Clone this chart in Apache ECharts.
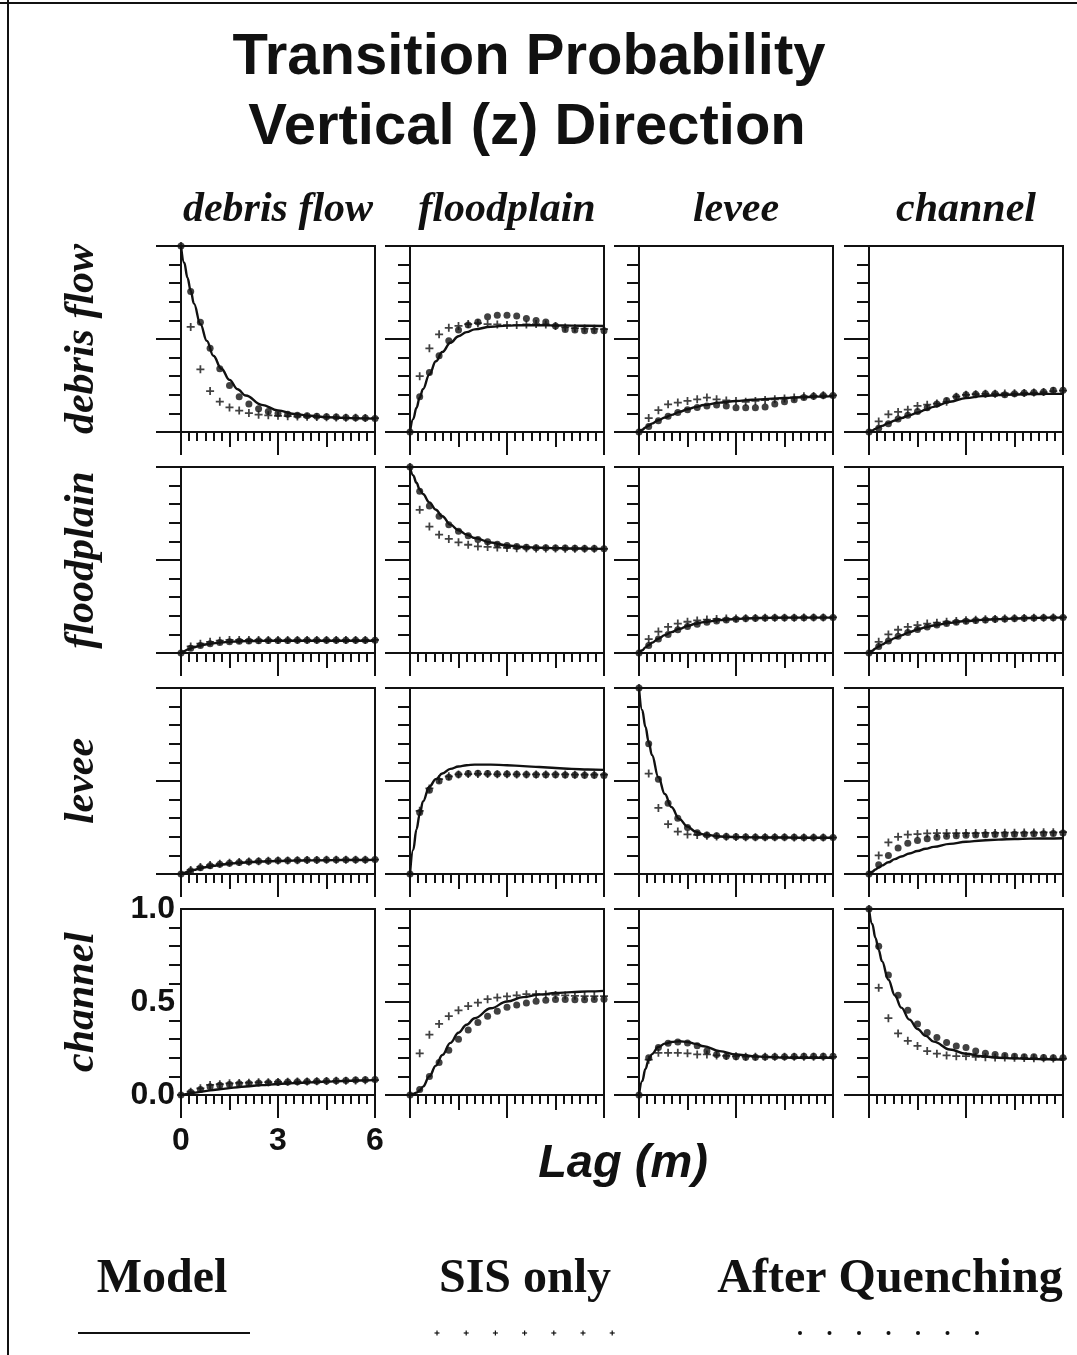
<!DOCTYPE html>
<html><head><meta charset="utf-8">
<script src="https://cdn.jsdelivr.net/npm/echarts@6/dist/echarts.min.js"></script>
<style>html,body{margin:0;padding:0;background:#fff}#c{width:1077px;height:1355px}</style>
</head><body><div id="c"></div>
<script>
const facies = ['debris flow','floodplain','levee','channel'];
const xTickLabels = ['0','3','6'];
const yTickLabels = ['0.0','0.5','1.0'];
const xPts = [0,0.3,0.6,0.9,1.2,1.5,1.8,2.1,2.4,2.7,3,3.3,3.6,3.9,4.2,4.5,4.8,5.1,5.4,5.7,6];
const xModel = [0,0.1,0.2,0.3,0.4,0.6,0.8,1,1.25,1.5,1.75,2,2.5,3,3.5,4,4.5,5,5.5,6];

// row 1: debris flow ->
const model11 = [1.0,0.91,0.83,0.76,0.69,0.58,0.49,0.41,0.34,0.28,0.23,0.196,0.146,0.116,0.097,0.087,0.08,0.076,0.073,0.072];
const sis11 = [1.0,0.565,0.337,0.22,0.163,0.132,0.115,0.102,0.093,0.09,0.087,0.085,0.083,0.082,0.08,0.079,0.078,0.077,0.076,0.075,0.074];
const aq11 = [1.0,0.755,0.59,0.45,0.34,0.25,0.19,0.15,0.125,0.11,0.1,0.095,0.09,0.088,0.085,0.082,0.08,0.078,0.076,0.075,0.073];
const model12 = [0,0.07,0.13,0.185,0.23,0.31,0.38,0.43,0.48,0.515,0.537,0.552,0.566,0.572,0.574,0.574,0.573,0.572,0.571,0.57];
const sis12 = [0,0.30,0.45,0.525,0.56,0.57,0.58,0.585,0.58,0.578,0.575,0.575,0.578,0.58,0.578,0.57,0.562,0.558,0.556,0.555,0.553];
const aq12 = [0,0.19,0.32,0.41,0.49,0.548,0.575,0.592,0.62,0.628,0.628,0.623,0.61,0.6,0.592,0.57,0.551,0.548,0.544,0.544,0.544];
const model13 = [0,0.012,0.024,0.035,0.045,0.063,0.078,0.092,0.108,0.122,0.134,0.145,0.158,0.167,0.173,0.178,0.183,0.187,0.19,0.193];
const sis13 = [0,0.075,0.117,0.149,0.158,0.167,0.176,0.185,0.176,0.17,0.167,0.162,0.167,0.172,0.176,0.18,0.186,0.192,0.194,0.197,0.197];
const aq13 = [0,0.03,0.06,0.085,0.105,0.12,0.132,0.14,0.145,0.14,0.13,0.13,0.13,0.135,0.15,0.162,0.174,0.185,0.192,0.196,0.196];
const model14 = [0,0.008,0.017,0.025,0.033,0.048,0.062,0.075,0.09,0.104,0.12,0.135,0.163,0.182,0.193,0.199,0.202,0.204,0.205,0.205];
const sis14 = [0,0.057,0.095,0.108,0.12,0.14,0.147,0.153,0.162,0.19,0.2,0.203,0.205,0.206,0.207,0.208,0.21,0.212,0.215,0.22,0.222];
const aq14 = [0,0.02,0.045,0.07,0.09,0.11,0.13,0.15,0.17,0.19,0.2,0.203,0.205,0.206,0.2,0.205,0.21,0.212,0.215,0.225,0.225];
// row 2: floodplain ->
const model21 = [0,0.01,0.018,0.025,0.031,0.04,0.047,0.052,0.057,0.06,0.062,0.064,0.065,0.066,0.066,0.066,0.066,0.066,0.066,0.066];
const sis21 = [0,0.035,0.05,0.06,0.066,0.07,0.07,0.07,0.07,0.07,0.07,0.07,0.07,0.07,0.07,0.07,0.07,0.07,0.07,0.07,0.07];
const aq21 = [0,0.025,0.04,0.05,0.057,0.061,0.063,0.065,0.066,0.067,0.067,0.067,0.068,0.068,0.068,0.068,0.068,0.068,0.068,0.068,0.068];
const model22 = [1,0.955,0.915,0.88,0.855,0.81,0.77,0.735,0.69,0.66,0.637,0.618,0.594,0.578,0.57,0.566,0.564,0.562,0.561,0.56];
const sis22 = [1,0.77,0.68,0.636,0.613,0.595,0.582,0.573,0.57,0.567,0.565,0.563,0.563,0.562,0.562,0.562,0.561,0.561,0.561,0.56,0.56];
const aq22 = [1,0.87,0.79,0.735,0.69,0.655,0.63,0.61,0.598,0.585,0.578,0.572,0.568,0.566,0.566,0.565,0.565,0.563,0.562,0.562,0.56];
const model23 = [0,0.015,0.03,0.043,0.055,0.077,0.096,0.112,0.13,0.145,0.157,0.166,0.177,0.183,0.187,0.189,0.19,0.19,0.19,0.19];
const sis23 = [0,0.075,0.115,0.14,0.158,0.168,0.175,0.18,0.183,0.185,0.186,0.187,0.188,0.189,0.19,0.19,0.19,0.191,0.191,0.191,0.191];
const aq23 = [0,0.04,0.075,0.1,0.125,0.142,0.155,0.165,0.172,0.178,0.182,0.185,0.187,0.188,0.189,0.19,0.19,0.19,0.191,0.191,0.191];
const model24 = [0,0.012,0.024,0.035,0.045,0.064,0.08,0.095,0.112,0.126,0.138,0.148,0.162,0.172,0.178,0.182,0.185,0.188,0.19,0.19];
const sis24 = [0,0.06,0.1,0.125,0.14,0.15,0.158,0.163,0.168,0.172,0.176,0.179,0.181,0.183,0.185,0.187,0.188,0.189,0.19,0.191,0.192];
const aq24 = [0,0.035,0.065,0.09,0.11,0.126,0.14,0.15,0.158,0.165,0.171,0.175,0.178,0.181,0.183,0.185,0.187,0.188,0.19,0.19,0.191];
// row 3: levee ->
const model31 = [0,0.006,0.012,0.017,0.022,0.031,0.038,0.044,0.05,0.055,0.059,0.062,0.067,0.07,0.072,0.073,0.074,0.075,0.075,0.076];
const sis31 = [0,0.022,0.038,0.048,0.055,0.06,0.064,0.067,0.069,0.071,0.072,0.073,0.074,0.075,0.075,0.076,0.076,0.077,0.077,0.077,0.077];
const aq31 = [0,0.018,0.033,0.044,0.052,0.058,0.062,0.066,0.068,0.07,0.072,0.073,0.074,0.075,0.075,0.076,0.076,0.077,0.077,0.077,0.078];
const model32 = [0,0.13,0.24,0.32,0.39,0.47,0.51,0.54,0.565,0.578,0.585,0.588,0.588,0.585,0.58,0.575,0.57,0.565,0.562,0.56];
const sis32 = [0,0.34,0.46,0.51,0.525,0.535,0.537,0.538,0.537,0.536,0.536,0.535,0.535,0.535,0.535,0.535,0.535,0.534,0.534,0.534,0.534];
const aq32 = [0,0.33,0.45,0.5,0.52,0.535,0.54,0.542,0.54,0.538,0.537,0.536,0.535,0.534,0.533,0.533,0.532,0.532,0.531,0.531,0.53];
const model33 = [1,0.88,0.79,0.71,0.64,0.52,0.43,0.36,0.295,0.255,0.228,0.213,0.202,0.198,0.197,0.196,0.196,0.195,0.195,0.195];
const sis33 = [1,0.54,0.355,0.268,0.228,0.213,0.21,0.205,0.202,0.2,0.199,0.198,0.198,0.197,0.197,0.197,0.196,0.196,0.196,0.196,0.196];
const aq33 = [1,0.70,0.51,0.38,0.3,0.25,0.222,0.21,0.205,0.202,0.2,0.199,0.198,0.198,0.197,0.197,0.197,0.196,0.196,0.196,0.196];
const model34 = [0,0.012,0.024,0.035,0.045,0.063,0.08,0.094,0.11,0.124,0.136,0.146,0.162,0.173,0.18,0.185,0.188,0.19,0.191,0.192];
const sis34 = [0,0.1,0.17,0.2,0.212,0.215,0.218,0.22,0.22,0.22,0.22,0.22,0.221,0.221,0.222,0.222,0.223,0.223,0.224,0.224,0.225];
const aq34 = [0,0.05,0.1,0.14,0.165,0.18,0.19,0.198,0.203,0.206,0.208,0.21,0.211,0.212,0.213,0.214,0.215,0.216,0.217,0.218,0.22];
// row 4: channel ->
const model41 = [0,0.003,0.006,0.009,0.012,0.017,0.022,0.027,0.032,0.037,0.042,0.046,0.053,0.059,0.064,0.068,0.072,0.075,0.078,0.08];
const sis41 = [0,0.018,0.036,0.054,0.058,0.063,0.065,0.066,0.068,0.069,0.07,0.071,0.072,0.073,0.074,0.075,0.076,0.077,0.078,0.079,0.08];
const aq41 = [0,0.015,0.03,0.045,0.052,0.056,0.06,0.062,0.064,0.066,0.068,0.07,0.071,0.072,0.074,0.075,0.077,0.078,0.08,0.082,0.083];
const model42 = [0,0.005,0.013,0.024,0.045,0.1,0.158,0.215,0.28,0.335,0.378,0.413,0.466,0.503,0.526,0.54,0.548,0.553,0.557,0.56];
const sis42 = [0,0.224,0.324,0.382,0.424,0.455,0.478,0.496,0.515,0.524,0.53,0.536,0.542,0.542,0.54,0.538,0.535,0.533,0.532,0.532,0.532];
const aq42 = [0,0.03,0.1,0.175,0.24,0.3,0.35,0.39,0.424,0.45,0.472,0.484,0.495,0.504,0.51,0.513,0.513,0.512,0.512,0.514,0.515];
const model43 = [0,0.075,0.14,0.19,0.22,0.258,0.276,0.285,0.289,0.285,0.275,0.262,0.236,0.218,0.209,0.204,0.201,0.2,0.2,0.2];
const sis43 = [0,0.19,0.227,0.227,0.227,0.224,0.218,0.218,0.213,0.21,0.208,0.206,0.205,0.205,0.205,0.205,0.205,0.205,0.205,0.205,0.205];
const aq43 = [0,0.2,0.255,0.278,0.285,0.28,0.265,0.236,0.218,0.209,0.205,0.203,0.203,0.204,0.205,0.206,0.207,0.208,0.208,0.209,0.209];
const model44 = [1,0.92,0.845,0.78,0.72,0.62,0.535,0.47,0.405,0.355,0.318,0.287,0.245,0.222,0.208,0.2,0.197,0.194,0.192,0.19];
const sis44 = [1,0.576,0.413,0.331,0.291,0.264,0.236,0.222,0.213,0.209,0.209,0.205,0.203,0.202,0.201,0.2,0.199,0.198,0.197,0.196,0.195];
const aq44 = [1,0.8,0.645,0.536,0.455,0.382,0.336,0.309,0.282,0.264,0.255,0.236,0.224,0.218,0.213,0.209,0.205,0.205,0.202,0.2,0.2];

const panels = [
  [[model11,sis11,aq11],[model12,sis12,aq12],[model13,sis13,aq13],[model14,sis14,aq14]],
  [[model21,sis21,aq21],[model22,sis22,aq22],[model23,sis23,aq23],[model24,sis24,aq24]],
  [[model31,sis31,aq31],[model32,sis32,aq32],[model33,sis33,aq33],[model34,sis34,aq34]],
  [[model41,sis41,aq41],[model42,sis42,aq42],[model43,sis43,aq43],[model44,sis44,aq44]]
];

const INK = '#111';
const lefts = [181, 410, 639, 869];
const tops = [246, 467, 688, 909];
const W = 194, H = 186;
const PLUS = 'path://M-1.1,-5 L1.1,-5 L1.1,-1.1 L5,-1.1 L5,1.1 L1.1,1.1 L1.1,5 L-1.1,5 L-1.1,1.1 L-5,1.1 L-5,-1.1 L-1.1,-1.1 Z';

const grids = [], xAxes = [], yAxes = [], series = [];
for (let r = 0; r < 4; r++) {
  for (let c = 0; c < 4; c++) {
    const k = r * 4 + c;
    const bl = (r === 3 && c === 0);
    grids.push({left: lefts[c], top: tops[r], width: W, height: H, show: true,
      borderColor: INK, borderWidth: 2, backgroundColor: 'rgba(0,0,0,0)'});
    xAxes.push({gridIndex: k, type: 'value', min: 0, max: 6, interval: 1.5, position: 'bottom',
      axisLine: {show: true, onZero: false, lineStyle: {color: INK, width: 2}},
      axisTick: {show: true, inside: false, length: 15, lineStyle: {color: INK, width: 2}},
      minorTick: {show: true, splitNumber: 6, length: 9, lineStyle: {color: INK, width: 2}},
      splitLine: {show: false}, axisLabel: {show: false}});
    xAxes.push({gridIndex: k, type: 'value', min: 0, max: 6, interval: 3, position: 'bottom',
      axisLine: {show: false, onZero: false},
      axisTick: {show: true, inside: false, length: 23, lineStyle: {color: INK, width: 2}},
      splitLine: {show: false},
      axisLabel: {show: bl, margin: 30, color: INK, fontSize: 32, fontWeight: 'bold',
        fontFamily: 'Liberation Sans, Arial, sans-serif',
        formatter: v => xTickLabels[Math.round(v / 3)]}});
    yAxes.push({gridIndex: k, type: 'value', min: 0, max: 1, interval: 0.5,
      axisLine: {show: true, onZero: false, lineStyle: {color: INK, width: 2}},
      axisTick: {show: !bl, inside: false, length: 25, lineStyle: {color: INK, width: 2}},
      minorTick: {show: true, splitNumber: 5, length: 12, lineStyle: {color: INK, width: 2}},
      splitLine: {show: false},
      axisLabel: {show: bl, margin: 6, color: INK, fontSize: 32, fontWeight: 'bold',
        fontFamily: 'Liberation Sans, Arial, sans-serif',
        formatter: v => yTickLabels[Math.round(v * 2)]}});
    const [m, s, a] = panels[r][c];
    series.push({type: 'scatter', xAxisIndex: 2 * k, yAxisIndex: k, symbol: PLUS, symbolSize: 8,
      itemStyle: {color: INK}, clip: false, z: 2, silent: true,
      data: xPts.map((x, i) => [x, s[i]])});
    series.push({type: 'scatter', xAxisIndex: 2 * k, yAxisIndex: k, symbol: 'circle', symbolSize: 7,
      itemStyle: {color: INK}, clip: false, z: 3, silent: true,
      data: xPts.map((x, i) => [x, a[i]])});
    series.push({type: 'line', xAxisIndex: 2 * k, yAxisIndex: k, showSymbol: false, smooth: 0.4,
      smoothMonotone: 'x', lineStyle: {color: INK, width: 2.4}, z: 4, silent: true, clip: false,
      data: xModel.map((x, i) => [x, m[i]])});
  }
}

const serif = 'Liberation Serif, Times New Roman, serif';
const sans = 'Liberation Sans, Arial, sans-serif';
const graphic = [];
graphic.push({type: 'text', x: 529, y: 58, style: {text: 'Transition Probability', fill: INK,
  font: 'bold 58px ' + sans, textAlign: 'center', textVerticalAlign: 'middle'}});
graphic.push({type: 'text', x: 527, y: 128, style: {text: 'Vertical (z) Direction', fill: INK,
  font: 'bold 58px ' + sans, textAlign: 'center', textVerticalAlign: 'middle'}});
facies.forEach((f, i) => {
  graphic.push({type: 'text', x: lefts[i] + W / 2, y: 210, style: {text: f, fill: INK,
    font: 'italic bold 42px ' + serif, textAlign: 'center', textVerticalAlign: 'middle'}});
  graphic.push({type: 'text', x: 82, y: tops[i] + H / 2, rotation: Math.PI / 2, style: {text: f, fill: INK,
    font: 'italic bold 42px ' + serif, textAlign: 'center', textVerticalAlign: 'middle'}});
});
graphic.push({type: 'text', x: 623, y: 1164, style: {text: 'Lag (m)', fill: INK,
  font: 'italic bold 47px ' + sans, textAlign: 'center', textVerticalAlign: 'middle'}});
// legend
graphic.push({type: 'text', x: 162, y: 1280, style: {text: 'Model', fill: INK,
  font: 'bold 48px ' + serif, textAlign: 'center', textVerticalAlign: 'middle'}});
graphic.push({type: 'text', x: 525, y: 1280, style: {text: 'SIS only', fill: INK,
  font: 'bold 48px ' + serif, textAlign: 'center', textVerticalAlign: 'middle'}});
graphic.push({type: 'text', x: 890, y: 1280, style: {text: 'After Quenching', fill: INK,
  font: 'bold 48px ' + serif, textAlign: 'center', textVerticalAlign: 'middle'}});
graphic.push({type: 'line', shape: {x1: 78, y1: 1333, x2: 250, y2: 1333}, style: {stroke: INK, lineWidth: 2}});
for (let i = 0; i < 7; i++) {
  const px = 437 + i * 29.2;
  graphic.push({type: 'line', shape: {x1: px - 2.5, y1: 1333, x2: px + 2.5, y2: 1333}, style: {stroke: INK, lineWidth: 1.2}});
  graphic.push({type: 'line', shape: {x1: px, y1: 1330.5, x2: px, y2: 1335.5}, style: {stroke: INK, lineWidth: 1.2}});
  graphic.push({type: 'circle', shape: {cx: 800 + i * 29.5, cy: 1333, r: 2}, style: {fill: INK}});
}
// page frame
graphic.push({type: 'line', shape: {x1: 8, y1: 0, x2: 8, y2: 1355}, style: {stroke: INK, lineWidth: 2}});
graphic.push({type: 'line', shape: {x1: 0, y1: 3, x2: 1077, y2: 3}, style: {stroke: INK, lineWidth: 2}});

const chart = echarts.init(document.getElementById('c'), null, {renderer: 'canvas'});
chart.setOption({animation: false, backgroundColor: '#fff', grid: grids, xAxis: xAxes, yAxis: yAxes,
  series: series, graphic: graphic});
</script></body></html>
